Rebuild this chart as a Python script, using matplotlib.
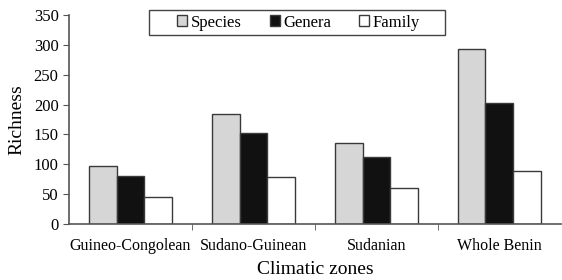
import numpy as np
import matplotlib
matplotlib.use("Agg")
import matplotlib.pyplot as plt
from matplotlib.patches import Rectangle

zones = ["Guineo-Congolean", "Sudano-Guinean", "Sudanian", "Whole Benin"]
species = [97, 184, 135, 293]
genera = [80, 152, 113, 203]
family = [45, 78, 60, 89]

plt.rcParams["font.family"] = ["Liberation Serif", "DejaVu Serif"]

fig = plt.figure(figsize=(5.62, 2.80), dpi=100)
ax = fig.add_axes([69 / 562, 0.2, 1 - 69 / 562 - 0.002, 0.746])

x = np.arange(len(zones))
w = 0.226
edge = "#3a3a3a"
ax.bar(x - w, species, w, color="#d6d6d6", edgecolor=edge, linewidth=1, label="Species")
ax.bar(x, genera, w, color="#111111", edgecolor=edge, linewidth=1, label="Genera")
ax.bar(x + w, family, w, color="white", edgecolor=edge, linewidth=1, label="Family")

ax.set_xlim(-0.5, len(zones) - 0.5)
ax.set_ylim(0, 350)
ax.set_yticks(range(0, 351, 50))

# category labels centred, tick marks only at the boundaries
ax.set_xticks(x)
ax.set_xticklabels(zones, fontsize=11.5)
ax.tick_params(axis="x", length=0, pad=10)
ax.set_xticks(x[:-1] + 0.5, minor=True)
ax.tick_params(axis="x", which="minor", length=4, direction="out", color="#555555")
ax.tick_params(axis="y", labelsize=12, length=4, color="#555555")

for s in ["top", "right"]:
    ax.spines[s].set_visible(False)
for s in ["left", "bottom"]:
    ax.spines[s].set_color("#555555")
    ax.spines[s].set_linewidth(1.2)

ax.set_ylabel("Richness", fontsize=14, labelpad=6)
ax.set_xlabel("Climatic zones", fontsize=14, labelpad=5)

# legend box is wider than its entries in the original, so draw the frame separately
frame = Rectangle((0.162, 0.904), 0.602, 0.12, transform=ax.transAxes, clip_on=False,
                  facecolor="white", edgecolor="#444444", linewidth=1, zorder=4)
ax.add_patch(frame)
leg = ax.legend(loc="center", bbox_to_anchor=(0.4665, 0.964), ncol=3, fontsize=12,
                frameon=False, handlelength=0.6, handleheight=0.6, handletextpad=0.2,
                columnspacing=1.7, borderpad=0, borderaxespad=0)
leg.set_zorder(5)

fig.savefig("out.png", dpi=100)
